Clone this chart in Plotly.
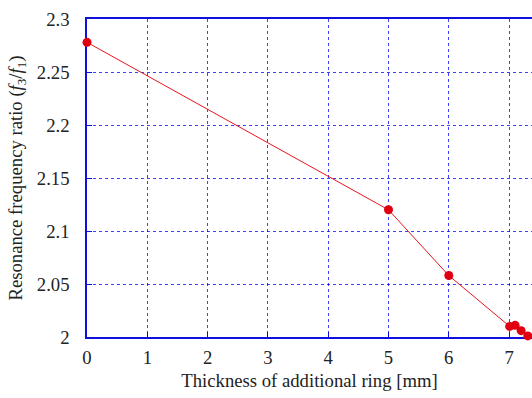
import plotly.graph_objects as go

thickness = [0, 5, 6, 7.01, 7.1, 7.2, 7.31]
ratio = [2.278, 2.120, 2.058, 2.010, 2.011, 2.006, 2.001]

x_ticks = [0, 1, 2, 3, 4, 5, 6, 7]
y_ticks = [2.0, 2.05, 2.1, 2.15, 2.2, 2.25, 2.3]
y_tick_text = ["2", "2.05", "2.1", "2.15", "2.2", "2.25", "2.3"]

blue = "#1010e0"
grid = "rgba(0,0,255,0.75)"
font = dict(family="Liberation Serif", size=18.7, color="#222")

fig = go.Figure()
fig.add_trace(go.Scatter(
    x=thickness, y=ratio, mode="lines+markers",
    line=dict(color="#e8141c", width=1),
    marker=dict(color="#e00010", size=9),
    cliponaxis=False,
))

fig.update_layout(
    width=532, height=398,
    margin=dict(l=87, r=0, t=19, b=61, autoexpand=False),
    paper_bgcolor="white", plot_bgcolor="white",
    font=font, showlegend=False,
)
fig.update_xaxes(
    range=[0, 7.38], tickvals=x_ticks, ticktext=[str(v) for v in x_ticks],
    showline=True, linecolor=blue, linewidth=1.5, mirror=True,
    showgrid=True, gridcolor=grid, griddash="dot", gridwidth=1,
    ticks="inside", ticklen=5, tickcolor=blue, zeroline=False,
    ticklabelstandoff=3, automargin=False, layer="below traces",
    title=dict(text="Thickness of additional ring [mm]", font=font, standoff=7),
)
fig.update_yaxes(
    range=[2.0, 2.3], tickvals=y_ticks, ticktext=y_tick_text,
    showline=True, linecolor=blue, linewidth=1.5,
    showgrid=True, gridcolor=grid, griddash="dot", gridwidth=1,
    ticks="inside", ticklen=5, tickcolor=blue, zeroline=False,
    ticklabelstandoff=12, automargin=False, layer="below traces",
    title=dict(text="Resonance frequency ratio (<i>f</i><sub>3</sub>/<i>f</i><sub>1</sub>)", font=font, standoff=9),
)

fig.write_html(
    "out.html",
    config={"displayModeBar": False},
    post_script="document.body.style.margin='0';document.body.style.overflow='hidden';",
)
